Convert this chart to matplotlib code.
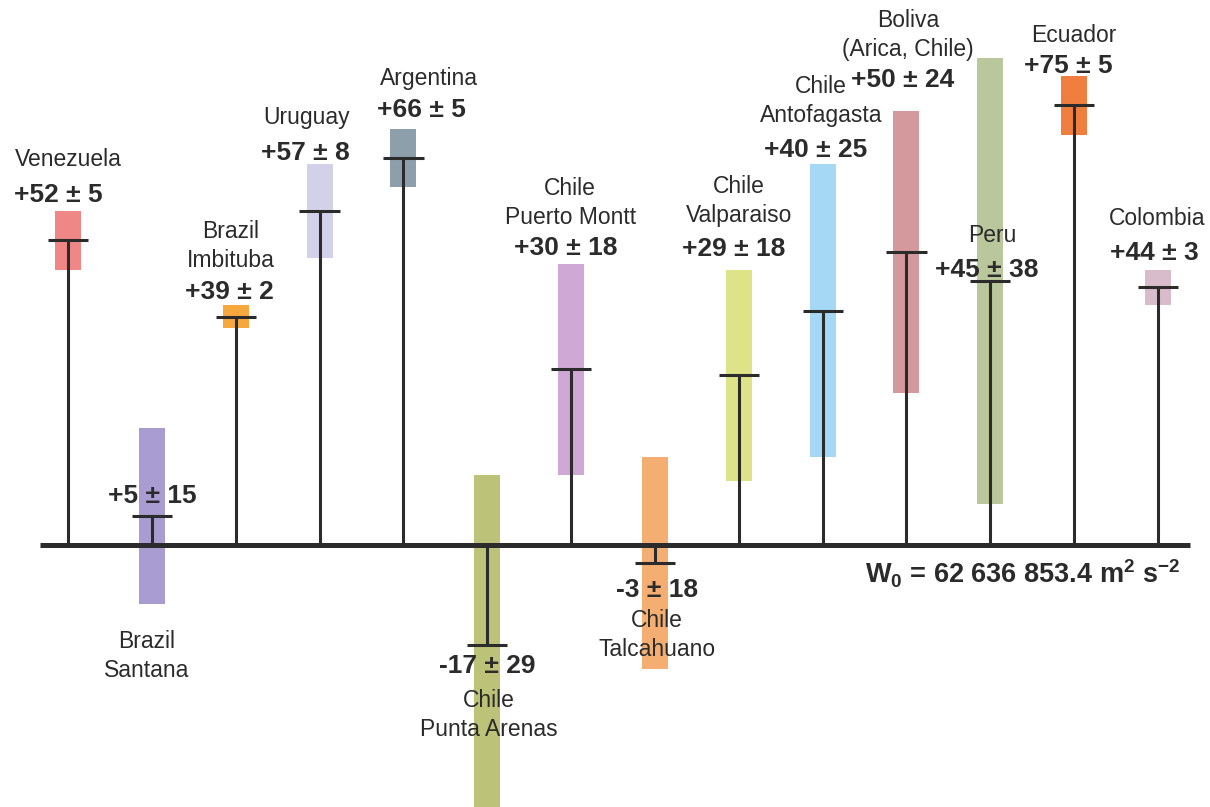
import matplotlib
matplotlib.use("Agg")
import matplotlib.pyplot as plt

plt.rcParams['font.family'] = ['Liberation Sans', 'DejaVu Sans']
plt.rcParams['mathtext.fontset'] = 'custom'
plt.rcParams['mathtext.rm'] = 'Liberation Sans'
plt.rcParams['mathtext.bf'] = 'Liberation Sans:bold'

# stations, offsets (m2 s-2) and their uncertainties
stations = [["Venezuela"], ["Brazil", "Santana"], ["Brazil", "Imbituba"], ["Uruguay"],
            ["Argentina"], ["Chile", "Punta Arenas"], ["Chile", "Puerto Montt"],
            ["Chile", "Talcahuano"], ["Chile", "Valparaiso"], ["Chile", "Antofagasta"],
            ["Boliva", "(Arica, Chile)"], ["Peru"], ["Ecuador"], ["Colombia"]]
values = [52, 5, 39, 57, 66, -17, 30, -3, 29, 40, 50, 45, 75, 44]
errors = [5, 15, 2, 8, 5, 29, 18, 18, 18, 25, 24, 38, 5, 3]
colors = ["#ef8787", "#a89cd0", "#f6a83f", "#d3d0ea", "#8e9fac", "#bcc277", "#cfa8d6",
          "#f4ae71", "#dde386", "#a4d8f5", "#d3999d", "#bac69c", "#f07f3f", "#d9bccb"]

# label layout: baseline of first name line / value line (data units), x shifts
name_y = [64.6, -17.5, 52.4, 71.8, 78.4, -27.5, 59.7, -13.9, 60.0, 77.1, 88.3, 51.7, 85.8, 54.6]
value_y = [58.5, 7.2, 42.0, 65.7, 73.0, -21.7, 49.5, -8.8, 49.4, 66.2, 78.1, 45.7, 80.5, 48.6]
name_dx = [0.0, -0.06, -0.06, -0.15, 0.30, 0.02, -0.01, 0.02, 0.0, -0.02, 0.02, 0.02, 0.0, -0.01]
value_dx = [-0.12, 0.0, -0.08, -0.17, 0.22, 0.0, -0.06, 0.03, -0.06, -0.08, -0.05, -0.04, -0.07, -0.04]
line_gap = 4.9

fig = plt.figure(figsize=(12.1, 8.07), dpi=100)
ax = fig.add_axes([0, 0, 1, 1])
ax.set_xlim(-0.811, 13.62)
ax.set_ylim(-44.55, 92.93)
ax.axis('off')

xs = list(range(len(values)))
dark = "#2b2b2b"

ax.bar(xs, [2 * e for e in errors], bottom=[v - e for v, e in zip(values, errors)],
       width=0.31, color=colors, zorder=1)
ax.vlines(xs, 0, values, color=dark, lw=2.2, zorder=2)
ax.hlines(values, [x - 0.24 for x in xs], [x + 0.24 for x in xs], color=dark, lw=2.2, zorder=2)
ax.hlines(0, -0.334, 13.38, color=dark, lw=3.6, zorder=3)

for i, x in enumerate(xs):
    for k, line in enumerate(stations[i]):
        ax.text(x + name_dx[i], name_y[i] - k * line_gap, line, ha='center', va='baseline',
                fontsize=16.5, color=dark, zorder=4)
    ax.text(x + value_dx[i], value_y[i], f"{values[i]:+d} \u00b1 {errors[i]}", ha='center',
            va='baseline', fontsize=19, fontweight='bold', color=dark, zorder=4)

ax.text(9.505, -6.4, r"W$_\mathbf{0}$ = 62 636 853.4 m$^\mathbf{2}$ s$^\mathbf{-2}$",
        ha='left', va='baseline', fontsize=19.5, fontweight='bold', color=dark, zorder=4)

fig.savefig("out.png", dpi=100)
